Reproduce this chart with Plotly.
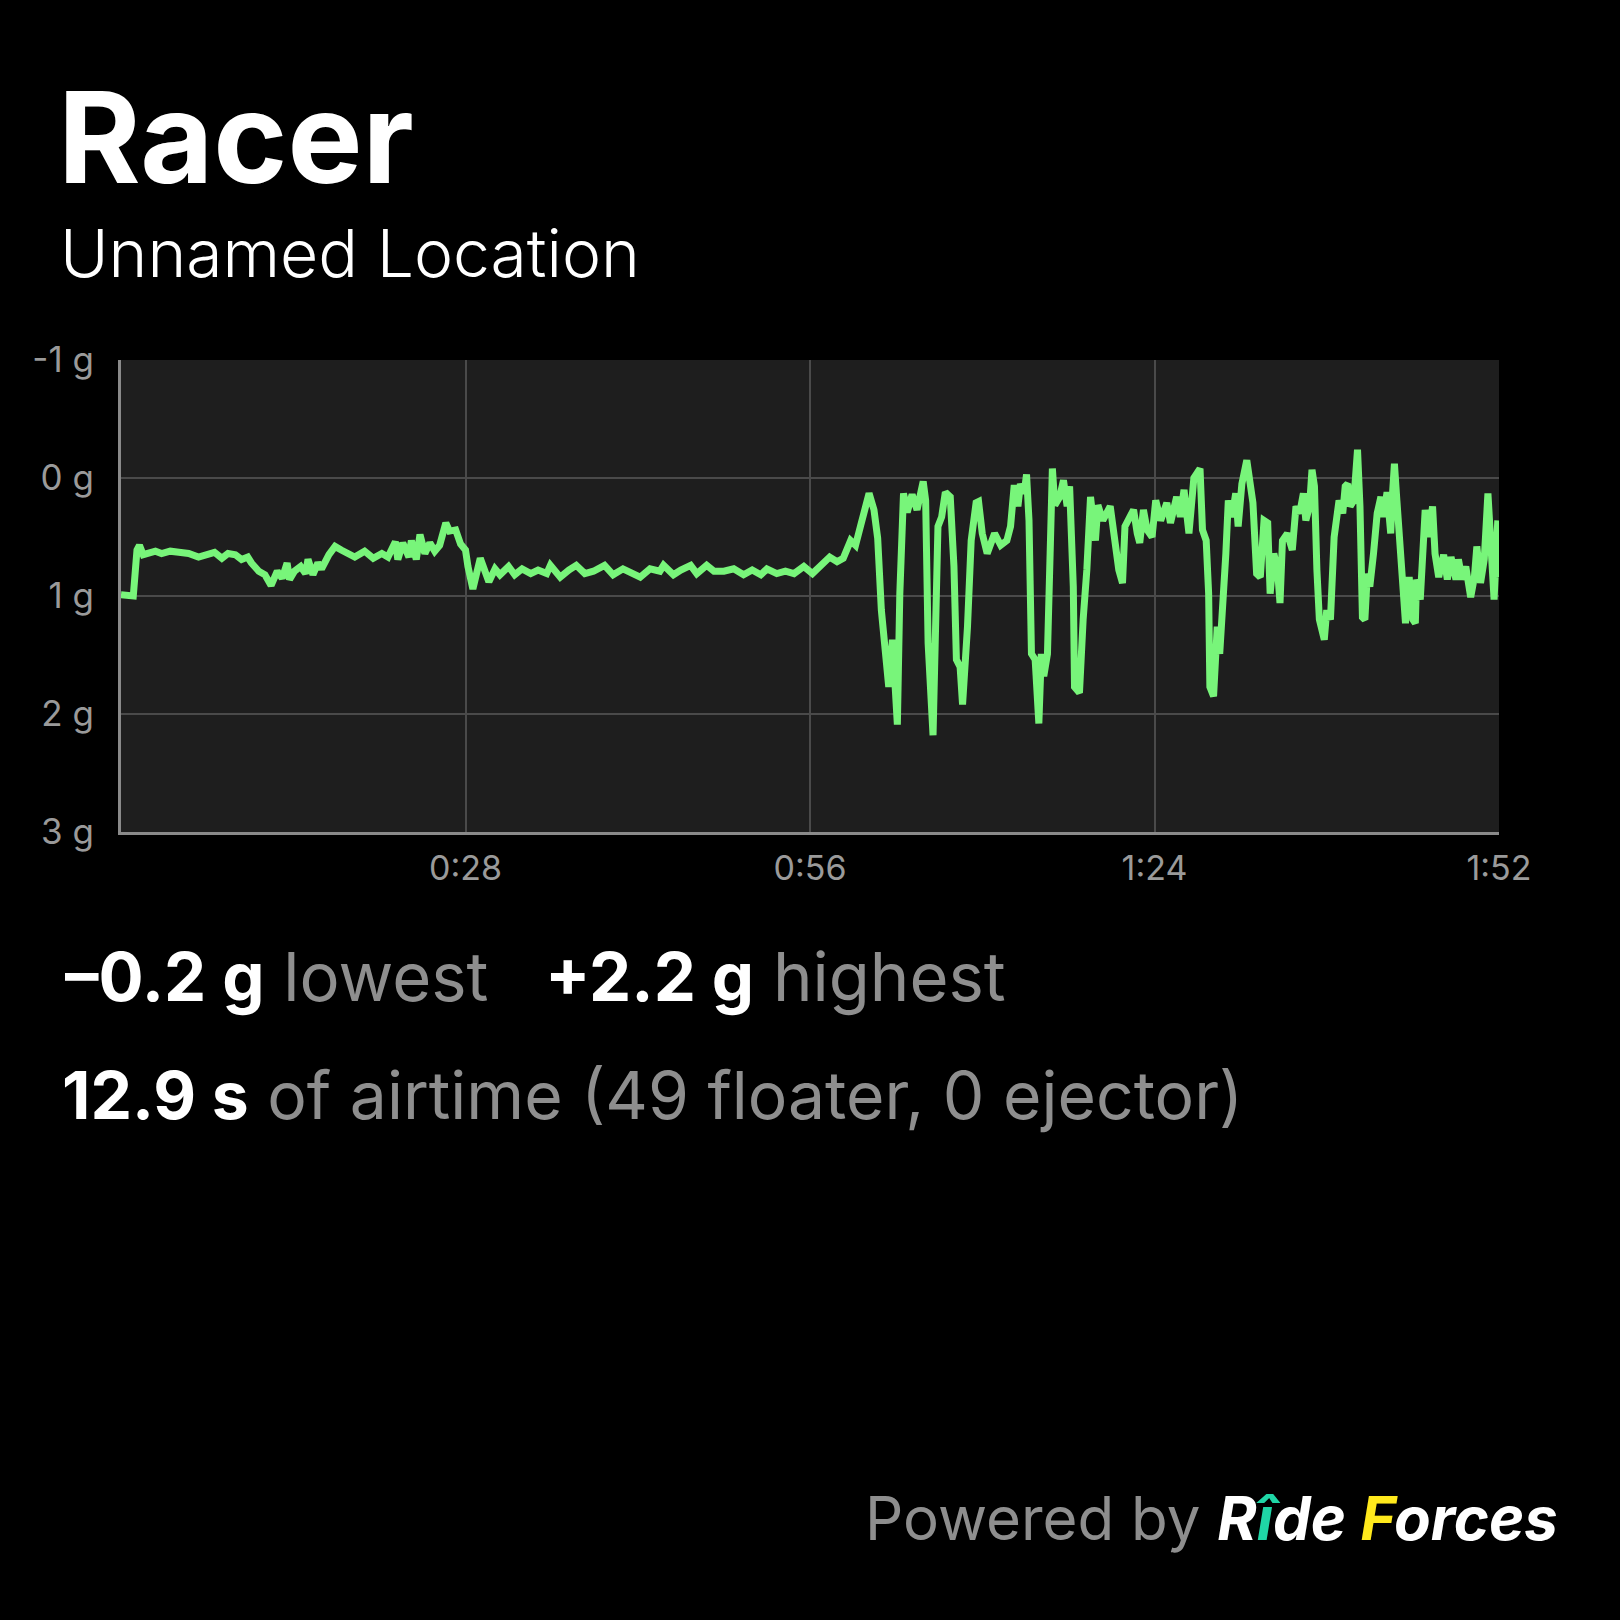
from __future__ import annotations

import plotly.graph_objects as go

# Ride trace: seconds since start, vertical g-force.
time_s = [
    0.0, 0.5, 1.0, 1.3, 1.5, 1.8, 2.2, 2.8, 3.3, 4.0, 4.7, 5.5, 6.3, 7.0, 7.6, 8.2, 8.7, 9.3,
    9.8, 10.3, 10.6, 11.2, 11.7, 12.2, 12.7, 13.1, 13.5, 13.7, 14.1, 14.6, 15.0, 15.2, 15.6,
    16.0, 16.3, 16.9, 17.4, 17.9, 18.5, 19.0, 19.8, 20.5, 21.2, 21.7, 22.3, 22.5, 22.9, 23.4,
    23.6, 24.0, 24.3, 24.7, 25.1, 25.5, 25.9, 26.4, 26.7, 27.2, 27.6, 28.0, 28.2, 28.6, 29.2,
    29.9, 30.4, 30.8, 31.5, 32.0, 32.6, 33.3, 33.9, 34.6, 34.9, 35.7, 36.4, 37.0, 37.7, 38.4,
    39.3, 40.0, 40.8, 41.7, 42.2, 43.0, 43.8, 44.1, 44.9, 45.5, 46.3, 46.8, 47.6, 48.2, 49.0,
    49.8, 50.6, 51.3, 52.0, 52.5, 53.3, 54.0, 54.7, 55.5, 56.2, 56.8, 57.6, 58.2, 58.7, 59.3,
    59.7, 60.1, 60.5, 60.8, 61.2, 61.5, 61.8, 62.1, 62.4, 62.7, 63.1, 63.3, 63.6, 63.9, 64.3,
    64.7, 65.0, 65.2, 65.4, 65.6, 66.0, 66.2, 66.4, 66.7, 67.0, 67.4, 67.7, 67.9, 68.2, 68.4,
    68.8, 69.1, 69.5, 69.7, 70.0, 70.4, 71.0, 71.5, 72.0, 72.3, 72.6, 72.9, 73.1, 73.4, 73.6,
    73.8, 74.0, 74.3, 74.6, 74.8, 75.0, 75.3, 75.5, 75.7, 75.9, 76.3, 76.6, 76.9, 77.1, 77.4,
    77.5, 77.9, 78.2, 78.5, 78.8, 79.2, 79.4, 79.8, 80.4, 80.8, 81.1, 81.4, 81.6, 82.0, 82.3,
    82.6, 82.8, 83.1, 83.4, 83.8, 84.1, 84.5, 85.0, 85.3, 85.8, 86.1, 86.4, 86.8, 87.2, 87.7,
    87.9, 88.2, 88.4, 88.5, 88.8, 89.1, 89.3, 89.8, 90.0, 90.3, 90.6, 90.8, 91.1, 91.5, 91.8,
    92.0, 92.3, 92.6, 92.9, 93.2, 93.4, 93.7, 94.0, 94.2, 94.4, 94.8, 95.2, 95.5, 95.8, 96.1,
    96.3, 96.6, 96.8, 97.0, 97.2, 97.4, 97.8, 98.0, 98.3, 98.6, 99.0, 99.3, 99.5, 99.7, 99.9,
    100.2, 100.5, 100.7, 100.9, 101.1, 101.3, 101.5, 101.8, 102.1, 102.4, 102.6, 102.9, 103.2,
    103.3, 103.5, 103.7, 104.0, 104.4, 104.7, 105.0, 105.2, 105.3, 105.6, 105.8, 106.0, 106.3,
    106.6, 106.8, 107.1, 107.5, 107.8, 108.1, 108.5, 108.7, 109.0, 109.3, 109.7, 110.0, 110.2,
    110.5, 110.8, 111.1, 111.4, 111.6, 111.9, 112.0,
]
g_force = [
    0.99, 1.0, 1.0, 0.61, 0.57, 0.65, 0.64, 0.62, 0.64, 0.62, 0.63, 0.64, 0.67, 0.64, 0.63, 0.68,
    0.64, 0.65, 0.69, 0.67, 0.72, 0.79, 0.82, 0.91, 0.79, 0.85, 0.72, 0.86, 0.79, 0.75, 0.81,
    0.69, 0.82, 0.72, 0.77, 0.65, 0.58, 0.61, 0.65, 0.67, 0.62, 0.68, 0.64, 0.67, 0.54, 0.69,
    0.55, 0.67, 0.53, 0.69, 0.48, 0.64, 0.55, 0.62, 0.57, 0.38, 0.45, 0.44, 0.56, 0.61, 0.75,
    0.94, 0.68, 0.88, 0.77, 0.82, 0.75, 0.82, 0.77, 0.81, 0.78, 0.81, 0.74, 0.84, 0.78, 0.74,
    0.81, 0.79, 0.74, 0.82, 0.77, 0.81, 0.84, 0.77, 0.79, 0.74, 0.82, 0.78, 0.74, 0.81, 0.74,
    0.79, 0.79, 0.77, 0.82, 0.78, 0.82, 0.77, 0.81, 0.79, 0.81, 0.75, 0.81, 0.75, 0.67, 0.71,
    0.68, 0.53, 0.57, 0.41, 0.27, 0.13, 0.27, 0.51, 1.12, 1.46, 1.77, 1.37, 2.09, 0.98, 0.13,
    0.29, 0.14, 0.27, 0.10, 0.03, 0.19, 1.40, 2.18, 1.26, 0.41, 0.33, 0.12, 0.16, 0.75, 1.54,
    1.60, 1.92, 1.26, 0.53, 0.21, 0.20, 0.47, 0.64, 0.47, 0.57, 0.53, 0.41, 0.06, 0.24, 0.05,
    0.13, -0.03, 0.36, 1.49, 1.54, 2.08, 1.49, 1.68, 1.49, 0.36, -0.08, 0.23, 0.16, 0.02, 0.24,
    0.07, 0.92, 1.77, 1.82, 1.20, 0.78, 0.16, 0.53, 0.23, 0.36, 0.24, 0.58, 0.78, 0.89, 0.41,
    0.33, 0.27, 0.47, 0.55, 0.27, 0.44, 0.50, 0.19, 0.36, 0.21, 0.38, 0.16, 0.33, 0.10, 0.47,
    0.0, -0.08, 0.44, 0.53, 0.98, 1.77, 1.85, 1.26, 1.49, 0.64, 0.19, 0.33, 0.13, 0.41, 0.05,
    -0.15, 0.07, 0.21, 0.81, 0.84, 0.36, 0.38, 0.98, 0.64, 0.78, 1.06, 0.53, 0.47, 0.61, 0.24,
    0.30, 0.13, 0.36, 0.24, -0.07, 0.07, 0.78, 1.20, 1.37, 1.12, 1.20, 0.50, 0.19, 0.30, 0.07,
    0.05, 0.24, 0.19, -0.24, 0.24, 1.18, 1.20, 0.81, 0.92, 0.64, 0.30, 0.16, 0.33, 0.12, 0.47,
    0.21, -0.12, 0.19, 0.64, 1.23, 0.84, 1.20, 1.23, 0.86, 1.03, 0.50, 0.27, 0.50, 0.24, 0.64,
    0.84, 0.65, 0.86, 0.67, 0.86, 0.69, 0.86, 0.75, 1.01, 0.84, 0.58, 0.89, 0.69, 0.13, 0.69,
    1.03, 0.36, 0.84,
]

x_tick_vals = [28, 56, 84, 112]
x_tick_text = ["0:28", "0:56", "1:24", "1:52"]
y_tick_vals = [-1, 0, 1, 2, 3]
y_tick_text = ["-1 g", "0 g", "1 g", "2 g", "3 g"]

ride_name = "Racer"
location = "Unnamed Location"
lowest_g = "\u20130.2 g"
highest_g = "+2.2 g"
airtime = "12.9 s"
airtime_note = "of airtime (49 floater, 0 ejector)"

SIZE = 1620
FONT = "Inter, Roboto, 'Noto Sans', sans-serif"
GREY = "#8e8e8e"


def px_x(x: float) -> float:
    return x / SIZE


def px_y(y: float) -> float:
    # paper y measured from the bottom; y here is from the top of the page
    return 1 - y / SIZE


def text_note(text: str, x: float, y: float, size: int, **kw) -> dict:
    return dict(
        text=text, x=px_x(x), y=px_y(y), xref="paper", yref="paper",
        xanchor=kw.pop("xanchor", "left"), yanchor="bottom", showarrow=False,
        font=dict(family=FONT, size=size, color=kw.pop("color", "white"), **kw),
    )


fig = go.Figure(
    go.Scatter(
        x=time_s, y=g_force, mode="lines",
        line=dict(color="#78f57a", width=7), hoverinfo="skip",
    )
)

fig.update_layout(
    width=SIZE,
    height=SIZE,
    autosize=False,
    margin=dict(l=0, r=0, t=0, b=0),
    paper_bgcolor="black",
    plot_bgcolor="#1e1e1e",
    showlegend=False,
    annotations=[
        text_note(f"<b>{ride_name}</b>", 56, 215, 126),
        text_note(location, 58, 295, 66, weight=300),
        text_note(
            f"<b>{lowest_g}</b> <span style='color:{GREY}'>lowest</span>\u00a0\u00a0\u00a0"
            f"<b>{highest_g}</b> <span style='color:{GREY}'>highest</span>",
            63, 1019, 67,
        ),
        text_note(
            f"<b>{airtime}</b> <span style='color:{GREY}'>{airtime_note}</span>",
            60, 1137, 66,
        ),
        text_note(
            f"<span style='color:{GREY}'>Powered by</span> "
            "<b><i>R<span style='color:#1fd6a6'>\u00ee</span>de "
            "<span style='color:#ffe91c'>F</span>orces</i></b>",
            1560, 1556, 60, xanchor="right",
        ),
    ],
)

fig.update_xaxes(
    domain=[px_x(121), px_x(1499)],
    range=[0, 112],
    automargin=False,
    tickvals=x_tick_vals,
    ticktext=x_tick_text,
    tickfont=dict(family=FONT, size=34, color="#9a9a9a"),
    ticklabelstandoff=4,
    showgrid=True, gridcolor="#4a4a4a", gridwidth=2,
    showline=True, linecolor="#8a8a8a", linewidth=3,
    zeroline=False,
)
fig.update_yaxes(
    domain=[px_y(832), px_y(360)],
    range=[3, -1],
    automargin=False,
    tickvals=y_tick_vals,
    ticktext=y_tick_text,
    tickfont=dict(family=FONT, size=35, color="#9a9a9a"),
    ticklabelstandoff=17,
    showgrid=True, gridcolor="#4a4a4a", gridwidth=2,
    showline=True, linecolor="#8a8a8a", linewidth=3,
    zeroline=False,
)

# the page itself should be black edge to edge, like the exported card
fig.write_html(
    "out.html",
    config={"displayModeBar": False},
    post_script="document.body.style.margin='0';document.body.style.background='black';",
)
